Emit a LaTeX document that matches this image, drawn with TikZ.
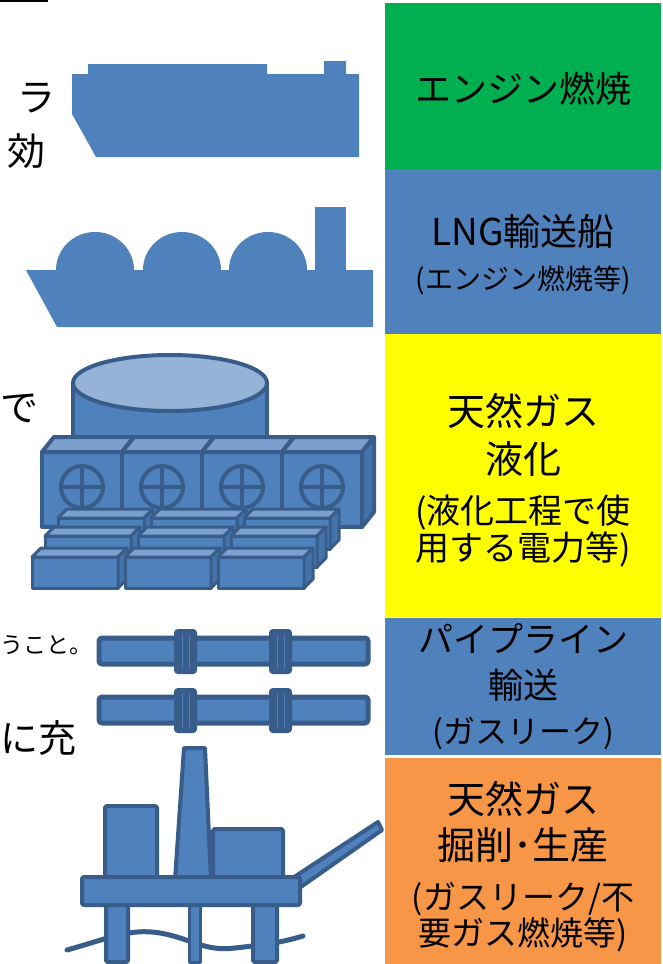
\documentclass[tikz,border=0pt]{standalone}
\usepackage{fontspec}
\setmainfont{Noto Sans CJK JP}
\usetikzlibrary{calc}

\definecolor{shpfill}{HTML}{4F81BD}
\definecolor{shpline}{HTML}{385D8A}
\definecolor{shptop}{HTML}{7BA0D0}
\definecolor{shpside}{HTML}{4472AA}
\definecolor{tanktop}{HTML}{95B3D7}
\definecolor{engine}{HTML}{00B050}
\definecolor{liquefy}{HTML}{FFFF00}
\definecolor{drill}{HTML}{F79646}

\tikzset{
  shp/.style={fill=shpfill, draw=shpline, line width=4pt, line join=round},
  thinshp/.style={shp, line width=3pt},
  flange/.style={fill=shpline, draw=shpline, line width=2pt, rounded corners=3pt},
  boxtext/.style={align=center, inner sep=0pt, text=black}
}

\begin{document}
\begin{tikzpicture}[x=1pt,y=-1pt]
        \fill[white] (0,0) rectangle (662,964);
        \useasboundingbox (0,0) rectangle (662,964);

        % stage colours
        \fill[engine] (385,3) rectangle (661,169);
        \fill[shpfill] (385,169) rectangle (661,334);
        \fill[liquefy] (385,334) rectangle (661,617);
        \fill[shpfill] (385,618) rectangle (661,755);
        \fill[drill] (385,758) rectangle (661,964);

        \node[boxtext, font=\fontsize{36}{36}\selectfont] (engtxt) at (523,89) {エンジン燃焼};
        \node[boxtext, font=\fontsize{37}{44}\selectfont] (shiptxt) at (523,255)
            {LNG輸送船\\{\fontsize{28}{44}\selectfont(エンジン燃焼等)}};
        \node[boxtext, font=\fontsize{38}{48}\selectfont] (liqtxt) at (523,480)
            {天然ガス\\液化\\[2pt]{\fontsize{34}{48}\selectfont(液化工程で使}\\[-11pt]{\fontsize{34}{48}\selectfont 用する電力等)}};
        \node[boxtext, font=\fontsize{35}{46}\selectfont] (pipetxt) at (523,687)
            {パイプライン\\輸送\\[-1pt]{\fontsize{32}{46}\selectfont(ガスリーク)}};
        \node[boxtext, font=\fontsize{38}{46}\selectfont] (drilltxt) at (523,867)
            {天然ガス\\掘削･生産\\[4pt]{\fontsize{33}{46}\selectfont(ガスリーク/不}\\[-10pt]{\fontsize{33}{46}\selectfont 要ガス燃焼等)}};

        % left text
        \draw[line width=2pt] (0,1) -- (48,1);
        \node[boxtext, font=\fontsize{38}{38}\selectfont] (t1) at (36,98) {ラ};
        \node[boxtext, font=\fontsize{38}{38}\selectfont] (t2) at (27,151) {効};
        \node[boxtext, font=\fontsize{38}{38}\selectfont] (t3) at (20,408) {で};
        \node[boxtext, font=\fontsize{23}{23}\selectfont, anchor=east] (t4) at (93,645) {うこと。};
        \node[boxtext, font=\fontsize{38}{38}\selectfont] (t5) at (39,738) {に充};

        % ship
        \fill[shpfill] (72,74) -- (88,74) -- (88,64) -- (267,64) -- (267,74) -- (324,74) -- (324,61)
            -- (346,61) -- (346,74) -- (359,74) -- (359,157) -- (96,157) -- (72,114) -- cycle;

        % LNG carrier
        \fill[shpfill] (26,270) -- (373,270) -- (373,327) -- (57,327) -- cycle;
        \fill[shpfill] (315,207) rectangle (346,270);
        \foreach \cx in {95,182,268}
            \fill[shpfill] (\cx,270) ellipse (39 and 38);

        % liquefaction plant
        \draw[shp] (73,383) -- (73,445) -- (267,445) -- (267,383);
        \draw[shp, fill=tanktop] (170,383) ellipse (97 and 28);
        \foreach \x in {42,122,202,282} {
            \draw[shp] (\x,452) rectangle ++(80,75);
            \draw[shp, fill=shptop] (\x,452) -- ++(12,-15) -- ++(80,0) -- ++(-12,15) -- cycle;
            \draw[shp, fill=shpside] (\x+80,452) -- ++(12,-15) -- ++(0,75) -- ++(-12,15) -- cycle;
            \draw[shp] (\x+40,487) circle (21);
            \draw[shpline, line width=4pt] (\x+19,487) -- (\x+61,487) (\x+40,466) -- (\x+40,508);
        }
        \foreach \bx/\by in {58/518,45/536,32/557} {
            \foreach \c in {0,93,186} {
                \draw[thinshp] (\bx+\c,\by) rectangle ++(86,31);
                \draw[thinshp, fill=shptop] (\bx+\c,\by) -- ++(9,-9) -- ++(86,0) -- ++(-9,9) -- cycle;
                \draw[thinshp, fill=shpside] (\bx+\c+86,\by) -- ++(9,-9) -- ++(0,31) -- ++(-9,9) -- cycle;
            }
        }

        % pipelines
        \foreach \y in {651,710} {
            \draw[shp, line width=5pt, rounded corners=3pt] (99,\y-13) rectangle (368,\y+13);
            \foreach \fx in {175,270} {
                \draw[flange] (\fx,\y-21) rectangle (\fx+21,\y+22);
                \draw[shpfill, line width=1pt] (\fx+7,\y-16) -- (\fx+7,\y+17) (\fx+14,\y-16) -- (\fx+14,\y+17);
            }
        }

        % offshore platform
        \draw[shpline, line width=5pt, line cap=round] (67,950) .. controls (110,938) and (130,928) .. (160,933)
            .. controls (190,938) and (205,952) .. (235,948) .. controls (262,945) and (280,943) .. (303,936);
        \draw[shp, rounded corners=2pt] (106,900) rectangle (128,962);
        \draw[shp, line width=3pt] (189,900) rectangle (200,962);
        \draw[shp, rounded corners=2pt] (253,900) rectangle (277,962);
        \draw[shp] (288,881) -- (378,822) -- (382,830) -- (298,889) -- cycle;
        \draw[shp, rounded corners=2pt] (105,806) rectangle (157,880);
        \draw[shp, rounded corners=2pt] (213,829) rectangle (283,880);
        \draw[shp] (175,880) -- (184,748) -- (205,748) -- (211,880) -- cycle;
        \draw[shp, rounded corners=2pt] (82,877) rectangle (300,905);
\end{tikzpicture}
\end{document}
